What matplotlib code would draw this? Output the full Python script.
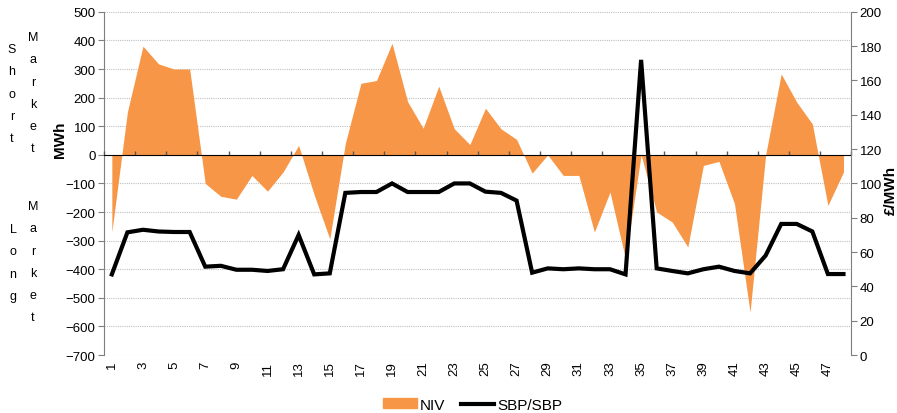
import numpy as np
import matplotlib.pyplot as plt
from matplotlib.patches import Patch
from matplotlib.lines import Line2D

plt.rcParams['font.family'] = ['Liberation Sans', 'DejaVu Sans']

periods = np.arange(1, 49)
niv = [-270, 150, 380, 318, 300, 300, -100, -145, -155, -72, -127, -60,
       33, -140, -294, 40, 250, 260, 390, 186, 93, 240, 91, 36,
       163, 91, 54, -64, 0, -72, -72, -270, -130, -364, 0, -200,
       -235, -322, -37, -23, -171, -550, 0, 283, 184, 108, -177, -60]
sbp = [47, 71.5, 73, 72, 71.7, 71.7, 51.5, 52, 49.7, 49.7, 49, 50,
       70, 47, 47.6, 94.5, 95, 95, 100, 95, 95, 95, 100, 100,
       95.2, 94.5, 90, 48, 50.5, 50, 50.5, 50, 50, 47, 172, 50.5,
       49, 47.6, 50, 51.5, 49, 47.6, 58, 76.4, 76.4, 72, 47.2, 47.2]

orange = '#F79646'
axis_col = '#7f7f7f'

fig = plt.figure(figsize=(8.97, 4.14), dpi=100)
ax = fig.add_axes([0.116, 0.14, 0.833, 0.829])
ax2 = ax.twinx()

ax.fill_between(periods, niv, 0, color=orange, linewidth=0, zorder=2)
ax2.plot(periods, sbp, color='black', lw=3, solid_joinstyle='miter', zorder=3)

ax.set_xlim(0.5, 48.5)
ax.set_ylim(-700, 500)
ax.set_yticks(np.arange(-700, 501, 100))
ax2.set_ylim(0, 200)
ax2.set_yticks(np.arange(0, 201, 20))

ax.yaxis.grid(True, color='#c0c0c0', linestyle=(0, (1, 1)), lw=0.8)
ax.set_axisbelow(True)

ax.set_xticks(periods[::2])
ax.set_xticklabels([str(p) for p in periods[::2]], rotation=90)
ax.tick_params(axis='x', length=0, labelsize=9.5, pad=4)
ax.tick_params(axis='y', length=4, color=axis_col, labelsize=9.5, pad=2)
ax2.tick_params(axis='y', length=4, color=axis_col, labelsize=9.5, pad=2)

for a in (ax, ax2):
    a.spines['top'].set_visible(False)
    a.spines['bottom'].set_visible(False)
    a.spines['left'].set_color(axis_col)
    a.spines['right'].set_color(axis_col)
ax2.spines['left'].set_visible(False)
ax.spines['right'].set_visible(False)

# category axis crossing at zero
zero_pos = 700 / 1200
sec = ax.secondary_xaxis(zero_pos)
sec.set_xticks(np.arange(0.5, 48.6, 2))
sec.set_xticklabels([])
sec.tick_params(axis='x', direction='out', length=3, color='#595959', width=1)
sec.spines['bottom'].set_color('#595959')
sec.spines['bottom'].set_linewidth(1.2)
sec.set_zorder(4)

fig.text(0.067, 0.662, 'MWh', rotation=90, fontsize=11, fontweight='bold',
         ha='center', va='center')
fig.text(0.993, 0.541, '£/MWh', rotation=90, fontsize=11, fontweight='bold',
         ha='center', va='center')

def stacked(x, y_top, word):
    for i, ch in enumerate(word):
        fig.text(x, 1 - (y_top + i * 22.3) / 414, ch, fontsize=9,
                 ha='center', va='center')

stacked(12 / 897, 50, 'Short')
stacked(33 / 897, 38, 'Market')
stacked(13 / 897, 230, 'Long')
stacked(33 / 897, 207, 'Market')

handles = [Patch(color=orange, label='NIV'),
           Line2D([0], [0], color='black', lw=3, label='SBP/SBP')]
fig.legend(handles=handles, loc='lower center', bbox_to_anchor=(0.527, -0.03),
           ncol=2, frameon=False, fontsize=11, handlelength=2.2,
           handleheight=0.6, columnspacing=1.0, handletextpad=0.2)

fig.savefig('out.png', dpi=100)
